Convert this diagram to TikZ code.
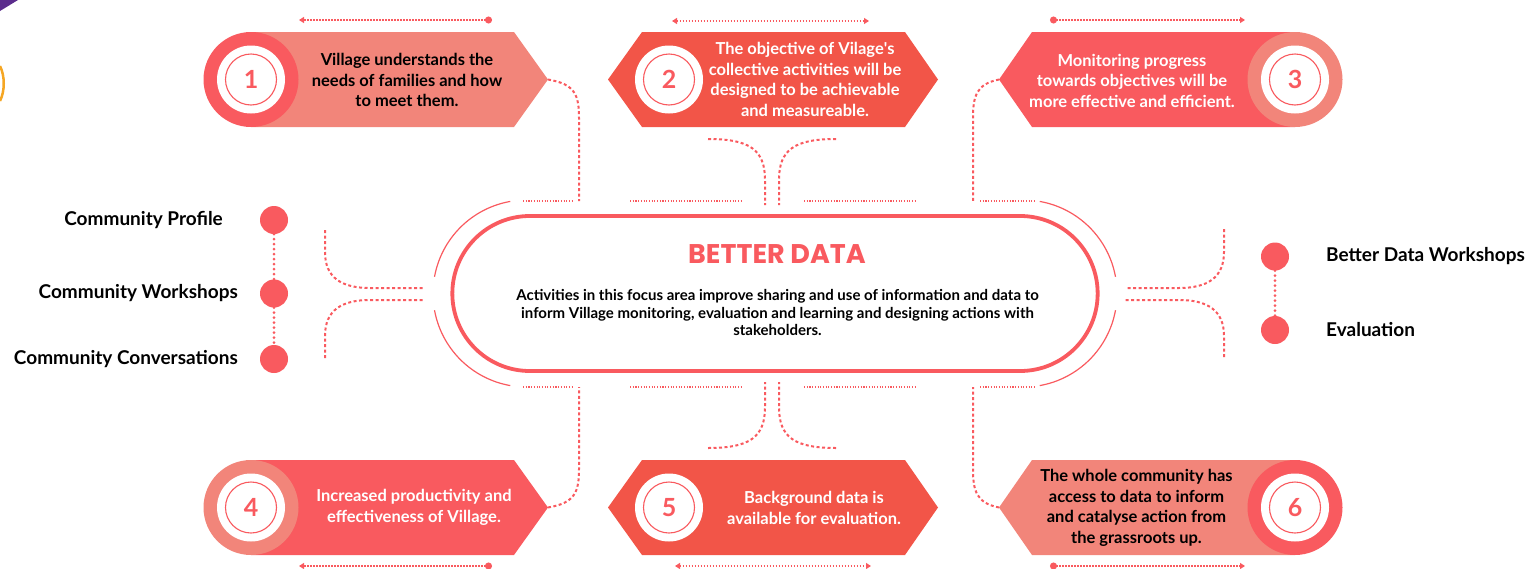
\documentclass[tikz,border=0pt]{standalone}
\usepackage{fontspec}
\setmainfont{Lato}
\newfontfamily\titlefont{Poppins}
\usetikzlibrary{arrows.meta,calc,shapes.misc}
\definecolor{coral}{HTML}{F95A5F}
\definecolor{salmon}{HTML}{F2857A}
\definecolor{tomato}{HTML}{F25548}
\definecolor{grape}{HTML}{5B2C8C}
\definecolor{amber}{HTML}{F5A623}

% white disk with thin ring and number
\newcommand\badge[3]{%
  \fill[white] #1 circle (34pt);
  \draw[coral,line width=1.1pt] #1 circle (25.5pt);
  \node[numtext] (#2) at #1 {#3};}

\begin{document}
\begin{tikzpicture}[x=1pt,y=-1pt,
  boxtext/.style={align=center,font=\fontsize{16.5}{20.5}\selectfont\bfseries},
  numtext/.style={font=\fontsize{25}{25}\selectfont\bfseries,text=coral},
  listtext/.style={inner sep=0pt,font=\fontsize{19}{22}\selectfont\bfseries},
  link/.style={coral,line width=2pt,dash pattern=on 3pt off 2.5pt},
  fine/.style={coral,line width=1.1pt,dash pattern=on 1.1pt off 1.6pt},
  guide/.style={coral,line width=1.4pt,dash pattern=on 1.4pt off 1.6pt},
  beads/.style={coral,line width=3pt,line cap=round,dash pattern=on 0pt off 5pt},
  dot/.style={circle,fill=coral,minimum size=28pt,inner sep=0pt}]
  \useasboundingbox (0,0) rectangle (1527,568);

  % leftovers at the edge
  \fill[grape] (0,0) -- (18,0) -- (0,11) -- cycle;
  \draw[amber,line width=2.5pt] (0,66) .. controls (5,76) and (5,91) .. (0,101);

  % core
  \node (core) [draw=coral,line width=3.8pt,rounded rectangle,
    minimum width=652pt,minimum height=155pt] at (775,293.5) {};
  \node (title) at (777,254) {\titlefont\fontsize{27}{27}\selectfont\bfseries\color{coral}BETTER DATA};
  \node (desc) [align=center,font=\fontsize{15}{17.5}\selectfont\bfseries] at (777.5,312.5)
    {Activities in this focus area improve sharing and use of information and data to\\
     inform Village monitoring, evaluation and learning and designing actions with\\
     stakeholders.};

  % outer frame arcs
  \coordinate (cL) at (526.5,293.5);
  \coordinate (cR) at (1023.5,293.5);
  \draw[coral,line width=1.2pt] ($(cL)+(100:93.5pt)$) arc[start angle=100,end angle=169.7,radius=93.5pt];
  \draw[coral,line width=1.2pt] ($(cL)+(190.3:93.5pt)$) arc[start angle=190.3,end angle=260,radius=93.5pt];
  \draw[coral,line width=1.2pt] ($(cR)+(80:93.5pt)$) arc[start angle=80,end angle=10.3,radius=93.5pt];
  \draw[coral,line width=1.2pt] ($(cR)+(-10.3:93.5pt)$) arc[start angle=-10.3,end angle=-80,radius=93.5pt];
  \foreach \y in {201,387}{
    \draw[fine] (523,\y) -- (572,\y);
    \draw[fine] (630,\y) -- (741,\y);
    \draw[fine] (804,\y) -- (915,\y);
    \draw[fine] (980,\y) -- (1036,\y);
  }

  % box 1
  \fill[salmon] (251,32) -- (514,32) -- (548,79.5) -- (514,127) -- (251,127) -- cycle;
  \fill[coral] (251,79.5) circle (47.5pt);
  \badge{(251,79.5)}{n1}{1}
  \node[boxtext] (t1) at (407,80) {Village understands the\\needs of families and how\\to meet them.};
  % box 2
  \fill[tomato] (608,79.5) -- (642,32) -- (905,32) -- (938,79.5) -- (905,127) -- (642,127) -- cycle;
  \badge{(669,79.5)}{n2}{2}
  \node[boxtext,text=white] (t2) at (805,79.5) {The objective of Vilage\textquotesingle s\\collective activities will be\\designed to be achievable\\and measureable.};
  % box 3
  \fill[coral] (1295,32) -- (1032,32) -- (999,79.5) -- (1032,127) -- (1295,127) -- cycle;
  \fill[salmon] (1295,79.5) circle (47.5pt);
  \badge{(1295,79.5)}{n3}{3}
  \node[boxtext,text=white] (t3) at (1132,80.5) {Monitoring progress\\towards objectives will be\\more effective and efficient.};
  % box 4
  \fill[coral] (251,460) -- (514,460) -- (548,507.5) -- (514,555) -- (251,555) -- cycle;
  \fill[salmon] (251,507.5) circle (47.5pt);
  \badge{(251,507.5)}{n4}{4}
  \node[boxtext,text=white] (t4) at (414,507.5) {Increased productivity and\\effectiveness of Village.};
  % box 5
  \fill[tomato] (608,507.5) -- (642,460) -- (905,460) -- (938,507.5) -- (905,555) -- (642,555) -- cycle;
  \badge{(669,507.5)}{n5}{5}
  \node[boxtext,text=white] (t5) at (814,508) {Background data is\\available for evaluation.};
  % box 6
  \fill[salmon] (1295,460) -- (1032,460) -- (999,507.5) -- (1032,555) -- (1295,555) -- cycle;
  \fill[coral] (1295,507.5) circle (47.5pt);
  \badge{(1295,507.5)}{n6}{6}
  \node[boxtext] (t6) at (1136.5,508) {The whole community has\\access to data to inform\\and catalyse action from\\the grassroots up.};

  % box tips and frame ends
  \coordinate (tip1) at (548,79.5);
  \coordinate (tip3) at (999,79.5);
  \coordinate (tip4) at (548,507.5);
  \coordinate (tip6) at (999,507.5);
  \draw[link] (tip1) .. controls (575,84) and (579,95) .. (579,118) -- (579,201);
  \draw[link] (tip3) .. controls (977,84) and (973,95) .. (973,118) -- (973,201);
  \draw[link] (tip4) .. controls (575,503) and (579,492) .. (579,469) -- (579,387);
  \draw[link] (tip6) .. controls (977,503) and (973,492) .. (973,469) -- (973,387);
  % centre forks
  \draw[link] (708,139) .. controls (750,139) and (765,150) .. (765,180) -- (765,205);
  \draw[link] (836,139) .. controls (794,139) and (779,150) .. (779,180) -- (779,205);
  \draw[link] (708,448) .. controls (750,448) and (765,437) .. (765,407) -- (765,382);
  \draw[link] (836,448) .. controls (794,448) and (779,437) .. (779,407) -- (779,382);
  % side forks
  \draw[link] (325,230) -- (325,252) .. controls (325,278) and (342,288) .. (370,288) -- (425,288);
  \draw[link] (325,358) -- (325,336) .. controls (325,310) and (342,300) .. (370,300) -- (425,300);
  \draw[link] (1224,229) -- (1224,252) .. controls (1224,278) and (1207,288) .. (1179,288) -- (1125,288);
  \draw[link] (1224,357) -- (1224,336) .. controls (1224,310) and (1207,300) .. (1179,300) -- (1125,300);

  % guide arrows
  \draw[guide,{Circle[length=7pt]}-{Triangle[length=5pt,width=6pt]}] (492,20) -- (299,20);
  \draw[guide,{Triangle[length=5pt,width=6pt]}-{Triangle[length=5pt,width=6pt]}] (672,21) -- (869,21);
  \draw[guide,{Circle[length=7pt]}-{Triangle[length=5pt,width=6pt]}] (1050,20) -- (1245,20);
  \draw[guide,{Circle[length=7pt]}-{Triangle[length=5pt,width=6pt]}] (492,566) -- (299,566);
  \draw[guide,{Triangle[length=5pt,width=6pt]}-{Triangle[length=5pt,width=6pt]}] (675,566) -- (871,566);
  \draw[guide,{Circle[length=7pt]}-{Triangle[length=5pt,width=6pt]}] (1050,566) -- (1245,566);

  % left list
  \node[dot] (d1) at (274,220) {};
  \node[dot] (d2) at (274,293.5) {};
  \node[dot] (d3) at (274,359) {};
  \draw[beads] (d1) -- (d2);
  \draw[beads] (d2) -- (d3);
  \node[listtext,anchor=east] (l1) at (223,220) {Community Profile};
  \node[listtext,anchor=east] (l2) at (238,293.5) {Community Workshops};
  \node[listtext,anchor=east] (l3) at (238,359) {Community Conversations};
  % right list
  \node[dot] (d4) at (1275,256.5) {};
  \node[dot] (d5) at (1275,330) {};
  \draw[beads] (d4) -- (d5);
  \node[listtext,anchor=west] (l4) at (1326,256.5) {Better Data Workshops};
  \node[listtext,anchor=west] (l5) at (1326,330) {Evaluation};
\end{tikzpicture}
\end{document}
